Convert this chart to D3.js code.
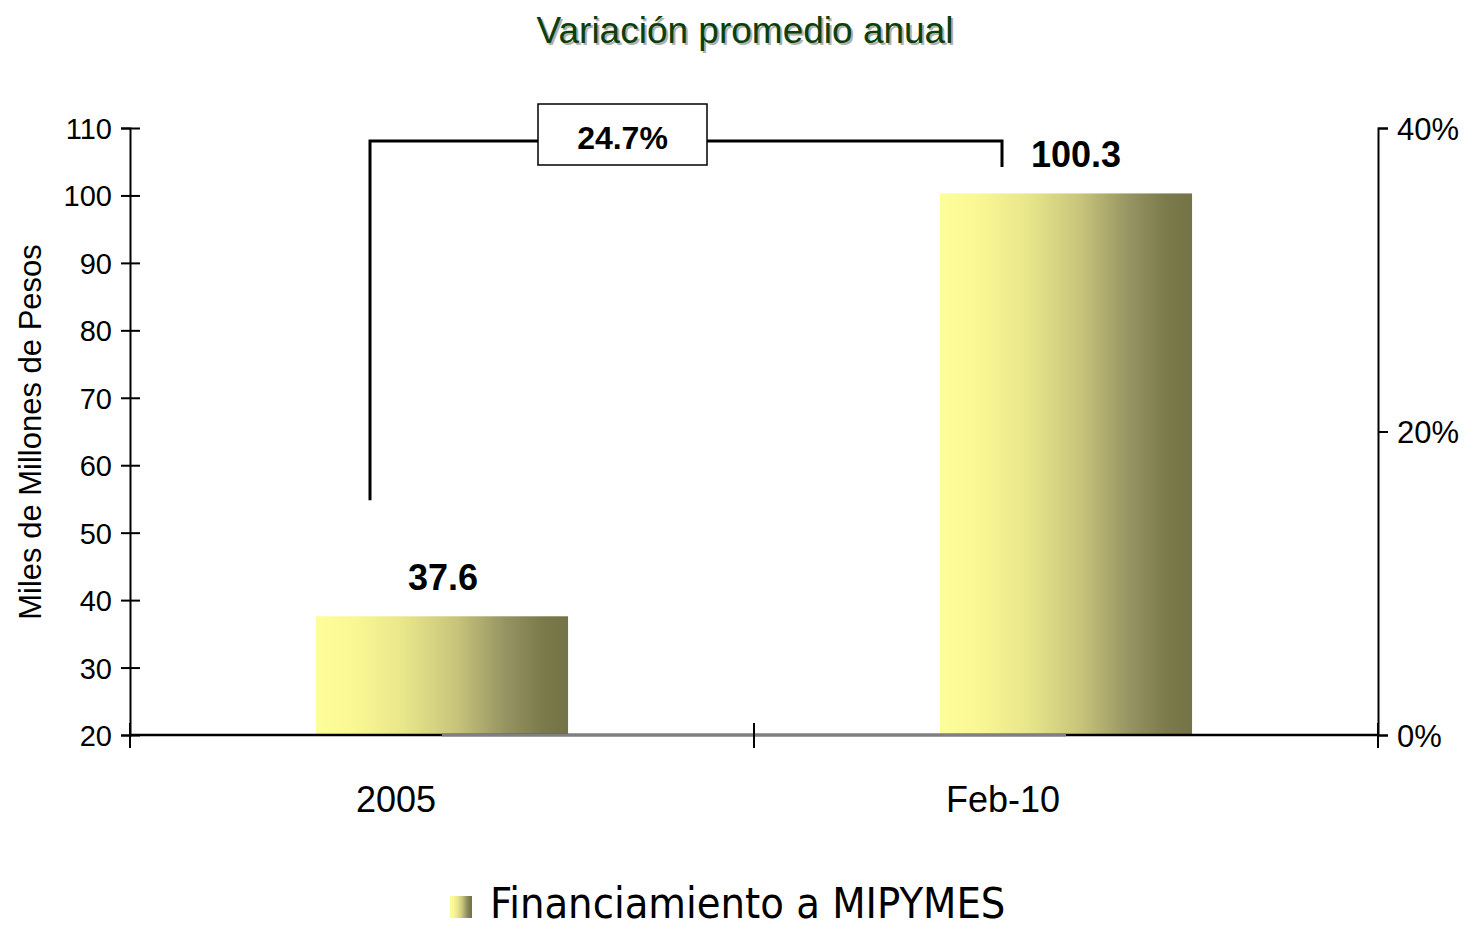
<!DOCTYPE html>
<html>
<head>
<meta charset="utf-8">
<script src="https://cdn.jsdelivr.net/npm/d3@7"></script>
<style>
  body { margin: 0; background: #fff; }
  svg { display: block; font-family: "Liberation Sans", Arial, sans-serif; }
</style>
</head>
<body>
<div id="chart"></div>
<script>
// chart data
var categories = ["2005", "Feb-10"];
var values = [37.6, 100.3];
var seriesName = "Financiamiento a MIPYMES";
var leftTicks = [20, 30, 40, 50, 60, 70, 80, 90, 100, 110];
var rightTicks = [0, 0.2, 0.4];
var growthLabel = "24.7%";
var titleText = "Variación promedio anual";
var yLabel = "Miles de Millones de Pesos";

var svgWidth = 1464;
var svgHeight = 929;

// plot area
var margin = { top: 128, right: 86, bottom: 194, left: 130 };
var width = svgWidth - margin.left - margin.right;
var height = svgHeight - margin.top - margin.bottom;

var svg = d3.select("#chart")
  .append("svg")
  .attr("width", svgWidth)
  .attr("height", svgHeight);

// bar gradient
var defs = svg.append("defs");
var grad = defs.append("linearGradient")
  .attr("id", "barGrad")
  .attr("x1", "0%").attr("x2", "100%")
  .attr("y1", "0%").attr("y2", "0%");
[[0, "#fdfd99"], [0.15, "#f9f894"], [0.35, "#e8e68a"], [0.55, "#c9c67c"],
 [0.75, "#969462"], [0.9, "#7b7a4b"], [1, "#737346"]].forEach(function(s) {
  grad.append("stop").attr("offset", s[0]).attr("stop-color", s[1]);
});

var chartGroup = svg.append("g")
  .attr("transform", `translate(${margin.left}, ${margin.top})`);

// scales
var x = d3.scaleBand().domain(categories).range([0, width]).padding(0);
var y = d3.scaleLinear().domain([20, 110]).range([height, 0]);
var y2 = d3.scaleLinear().domain([0, 0.4]).range([height, 0]);

var barW = x.bandwidth() * 0.404;

// bars
chartGroup.selectAll("rect.bar")
  .data(values)
  .enter()
  .append("rect")
  .attr("class", "bar")
  .attr("x", (d, i) => x(categories[i]) + x.bandwidth() / 2 - barW / 2)
  .attr("y", d => y(d))
  .attr("width", barW)
  .attr("height", d => height - y(d))
  .attr("fill", "url(#barGrad)");

// value labels
chartGroup.selectAll("text.val")
  .data(values)
  .enter()
  .append("text")
  .attr("class", "val")
  .attr("x", (d, i) => x(categories[i]) + x.bandwidth() / 2 + (i == 0 ? 1 : 10))
  .attr("y", d => y(d) - 26)
  .attr("text-anchor", "middle")
  .style("font-size", "36px")
  .style("font-weight", "bold")
  .text(d => d.toFixed(1));

// left axis
var leftAxis = d3.axisLeft(y).tickValues(leftTicks).tickSize(9).tickPadding(9);
var gl = chartGroup.append("g").call(leftAxis);
gl.select(".domain").attr("stroke-width", 2);
gl.selectAll(".tick line").attr("x1", 10).attr("stroke-width", 2);
gl.selectAll(".tick text").style("font-size", "29px").attr("fill", "#000").attr("dy", "0.36em");

// right axis
var rightAxis = d3.axisRight(y2).tickValues(rightTicks).tickFormat(d3.format(".0%")).tickSize(10).tickPadding(9);
var gr = chartGroup.append("g")
  .attr("transform", `translate(${width}, 0)`)
  .call(rightAxis);
gr.select(".domain").attr("stroke-width", 2);
gr.selectAll(".tick line").attr("stroke-width", 2);
gr.selectAll(".tick text").style("font-size", "31px").attr("fill", "#000").attr("dy", "0.36em");

// bottom axis line
chartGroup.append("line")
  .attr("x1", 0).attr("x2", width)
  .attr("y1", height).attr("y2", height)
  .attr("stroke", "#000").attr("stroke-width", 2.5);

// hidden line series at 0% on the secondary axis (shows as gray)
var zeroLine = d3.line()
  .x((d, i) => x(categories[i]) + x.bandwidth() / 2)
  .y(d => y2(d));
chartGroup.append("path")
  .datum([0, 0])
  .attr("d", zeroLine)
  .attr("fill", "none")
  .attr("stroke", "#808080")
  .attr("stroke-width", 3);

// bottom ticks at category boundaries
var bounds = categories.map(c => x(c)).concat([width]);
chartGroup.selectAll("line.xtick")
  .data(bounds)
  .enter()
  .append("line")
  .attr("class", "xtick")
  .attr("x1", d => d).attr("x2", d => d)
  .attr("y1", height - 12).attr("y2", height + 13)
  .attr("stroke", "#000").attr("stroke-width", 2);

// category labels
chartGroup.selectAll("text.cat")
  .data(categories)
  .enter()
  .append("text")
  .attr("class", "cat")
  .attr("x", (d, i) => x(d) + x.bandwidth() / 2 - (i == 0 ? 46 : 63))
  .attr("y", height + 77)
  .attr("text-anchor", "middle")
  .style("font-size", "36px")
  .text(d => d);

// growth bracket
var xa = x(categories[0]) + x.bandwidth() / 2 - 72;
var xb = x(categories[1]) + x.bandwidth() / 2 - 64;
var yTop = 13;
chartGroup.append("path")
  .attr("d", `M${xa},${y(values[0]) - 116} V${yTop} H${xb} V${yTop + 26}`)
  .attr("fill", "none")
  .attr("stroke", "#000")
  .attr("stroke-width", 3);

var boxX = 408, boxW = 169;
chartGroup.append("rect")
  .attr("x", boxX).attr("y", -24)
  .attr("width", boxW).attr("height", 61)
  .attr("fill", "#fff")
  .attr("stroke", "#000")
  .attr("stroke-width", 1.5);
chartGroup.append("text")
  .attr("x", boxX + boxW / 2)
  .attr("y", 21)
  .attr("text-anchor", "middle")
  .style("font-size", "32px")
  .style("font-weight", "bold")
  .text(growthLabel);

// y axis label
svg.append("text")
  .attr("transform", "rotate(-90)")
  .attr("x", -432)
  .attr("y", 41)
  .attr("text-anchor", "middle")
  .style("font-size", "31px")
  .text(yLabel);

// title with shadow
svg.append("text")
  .attr("x", 747).attr("y", 45)
  .attr("text-anchor", "middle")
  .style("font-size", "37px")
  .attr("fill", "#b0b0b0")
  .text(titleText);
svg.append("text")
  .attr("x", 745).attr("y", 43)
  .attr("text-anchor", "middle")
  .style("font-size", "37px")
  .attr("fill", "#0b400b")
  .text(titleText);

// legend
var legend = svg.append("g").attr("transform", "translate(450, 896)");
legend.append("rect")
  .attr("width", 22).attr("height", 22)
  .attr("fill", "url(#barGrad)");
legend.append("text")
  .attr("x", 40).attr("y", 22)
  .style("font-family", "'DejaVu Sans Condensed', 'DejaVu Sans', sans-serif")
  .style("font-size", "43px")
  .text(seriesName);
</script>
</body>
</html>
